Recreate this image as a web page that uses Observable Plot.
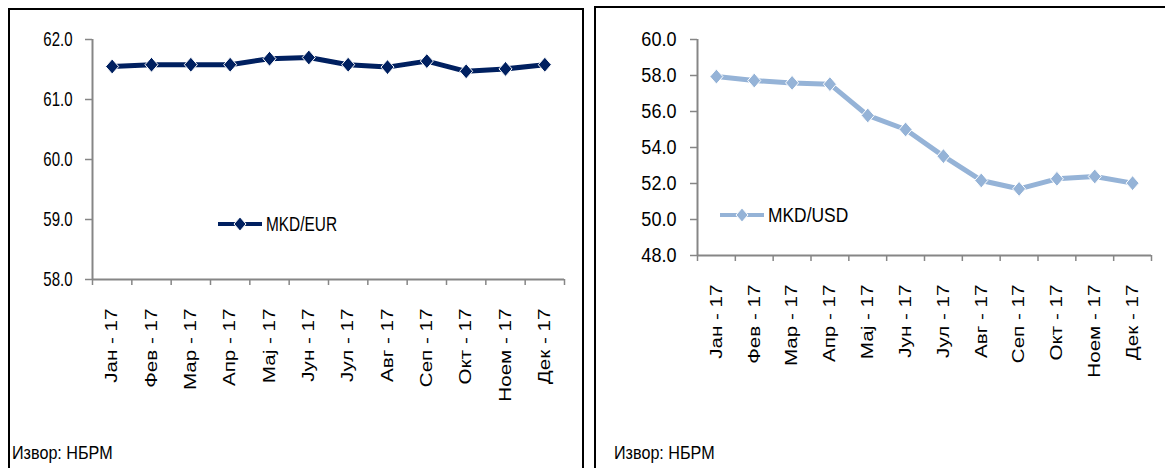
<!DOCTYPE html>
<html><head><meta charset="utf-8">
<script src="https://cdn.jsdelivr.net/npm/d3@7"></script>
<script src="https://cdn.jsdelivr.net/npm/@observablehq/plot@0.6"></script>
<style>
body{margin:0;background:#fff;width:1165px;height:468px;overflow:hidden;position:relative;font-family:"Liberation Sans",Arial,sans-serif;color:#000;}
.panel{position:absolute;border:2px solid #000;box-sizing:border-box;}
.chart{position:absolute;top:0;}
.legend{position:absolute;display:flex;align-items:center;font-size:20px;line-height:20px;white-space:nowrap;}
.legend svg{margin-right:4px;}
.legend span{display:inline-block;transform-origin:0 50%;}
.source{position:absolute;font-size:19px;line-height:19px;white-space:nowrap;transform:scaleX(0.85);transform-origin:0 50%;}
</style></head><body>
<div class="panel" style="left:8px;top:8px;width:576px;height:490px"></div>
<div class="panel" style="left:594px;top:6px;width:600px;height:490px"></div>
<div id="c1" class="chart" style="left:0"></div>
<div id="c2" class="chart" style="left:590px"></div>
<div class="legend" id="lg1" style="left:218px;top:214px"></div>
<div class="legend" id="lg2" style="left:720px;top:205px"></div>
<div class="source" style="left:12px;top:443px">Извор: НБРМ</div>
<div class="source" style="left:614px;top:443px">Извор: НБРМ</div>
<script>
const months = ["Јан - 17","Фев - 17","Мар - 17","Апр - 17","Мај - 17","Јун - 17","Јул - 17","Авг - 17","Сеп - 17","Окт - 17","Ноем - 17","Дек - 17"];
const eurValues = [61.55,61.58,61.58,61.58,61.68,61.70,61.58,61.54,61.64,61.47,61.51,61.58];
const usdValues = [57.94,57.72,57.59,57.52,55.78,55.00,53.52,52.17,51.70,52.26,52.39,52.02];
const eurTicks = [58,59,60,61,62];
const usdTicks = [48,50,52,54,56,58,60];
const eurName = "MKD/EUR";
const usdName = "MKD/USD";

const diamond = {
  draw(context, size) {
    const r = Math.sqrt(size / Math.PI);
    const w = r, h = r * 1.15;
    context.moveTo(0, -h);
    context.lineTo(w, 0);
    context.lineTo(0, h);
    context.lineTo(-w, 0);
    context.closePath();
  }
};

const axisGray = "#868686";

function px(v) {
  if (v == null) return 0;
  if (String(v).endsWith("em")) return 0;
  return parseFloat(v) || 0;
}

function squeeze(texts, s, size) {
  texts.forEach(t => {
    t.style.fontSize = size + "px";
    const X = px(t.getAttribute("x")) + px(t.getAttribute("dx"));
    const tr = t.getAttribute("transform") || "";
    t.setAttribute("transform", `${tr} translate(${X * (1 - s)},0) scale(${s},1)`);
  });
}

function chart({values, color, yDomain, yTicks, width, height, ml, mr, mt, mb, yFont, ySqueeze, yPad}) {
  const data = values.map((v, i) => ({x: i + 0.5, v}));
  const p = Plot.plot({
    width, height,
    marginLeft: ml, marginRight: mr, marginTop: mt, marginBottom: mb,
    x: {domain: [0, months.length], axis: null},
    y: {domain: yDomain, axis: null},
    style: {background: "transparent", overflow: "visible", fontFamily: '"Liberation Sans",Arial,sans-serif', color: "#000"},
    marks: [
      Plot.axisY({ticks: yTicks, tickFormat: d3.format(".1f"), tickSize: 7, tickPadding: yPad, stroke: axisGray, strokeWidth: 1.5, fill: "#000", fontSize: yFont, label: null}),
      Plot.axisX({ticks: d3.range(months.length + 1), tickFormat: () => "", tickSize: 6, stroke: axisGray, strokeWidth: 1.5, label: null}),
      Plot.axisX({ticks: data.map(d => d.x), tickFormat: x => months[Math.floor(x)], tickSize: 0, tickPadding: 29, tickRotate: -90, fontSize: 16.5, fill: "#000", label: null}),
      Plot.ruleX([0], {stroke: axisGray, strokeWidth: 2}),
      Plot.ruleY([yDomain[0]], {stroke: axisGray, strokeWidth: 2}),
      Plot.line(data, {x: "x", y: "v", stroke: color, strokeWidth: 5}),
      Plot.dot(data, {x: "x", y: "v", symbol: diamond, r: 6.5, fill: color, stroke: "#fff", strokeWidth: 1})
    ]
  });
  p.querySelectorAll('[aria-label="x-axis tick label"] text').forEach(t => {
    t.style.fontSize = "16.5px";
    const tr = t.getAttribute("transform");
    if (tr) t.setAttribute("transform", tr + " scale(1.25,1)");
  });
  squeeze(p.querySelectorAll('[aria-label="y-axis tick label"] text'), ySqueeze, yFont);
  return p;
}

function legend(el, name, color, s) {
  const svg = d3.create("svg").attr("width", 44).attr("height", 16);
  svg.append("line").attr("x1", 0).attr("x2", 44).attr("y1", 8).attr("y2", 8).attr("stroke", color).attr("stroke-width", 4);
  svg.append("path").attr("d", "M22,1L28,8L22,15L16,8Z").attr("fill", color).attr("stroke", "#fff").attr("stroke-width", 1);
  el.appendChild(svg.node());
  const sp = document.createElement("span");
  sp.textContent = name;
  sp.style.transform = `scaleX(${s})`;
  el.appendChild(sp);
}

document.getElementById("c1").appendChild(chart({
  values: eurValues, color: "#002060", yDomain: [58, 62], yTicks: eurTicks,
  width: 585, height: 400, ml: 92, mr: 21, mt: 39, mb: 121, yFont: 20, ySqueeze: 0.75, yPad: 13
}));
document.getElementById("c2").appendChild(chart({
  values: usdValues, color: "#95b3d7", yDomain: [48, 60], yTicks: usdTicks,
  width: 575, height: 400, ml: 107, mr: 14, mt: 39, mb: 145, yFont: 21, ySqueeze: 0.86, yPad: 14
}));
legend(document.getElementById("lg1"), eurName, "#002060", 0.77);
legend(document.getElementById("lg2"), usdName, "#95b3d7", 0.87);
</script>
</body></html>
